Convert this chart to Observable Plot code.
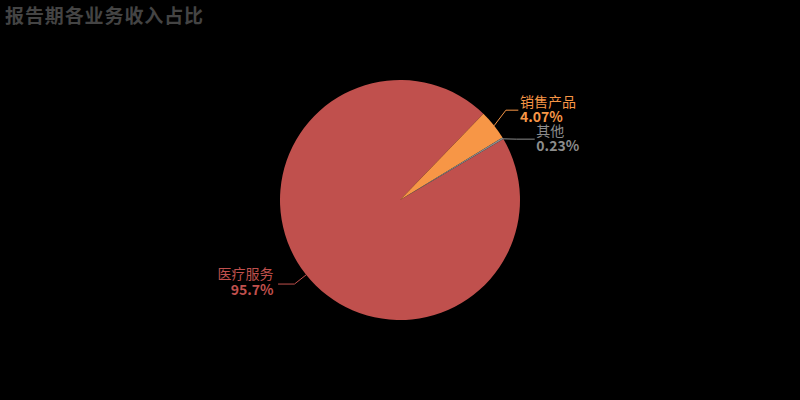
<!DOCTYPE html>
<html>
<head>
<meta charset="utf-8">
<script src="https://cdn.jsdelivr.net/npm/d3@7"></script>
<script src="https://cdn.jsdelivr.net/npm/@observablehq/plot@0.6"></script>
<style>
  html, body { margin: 0; padding: 0; background: #000; }
  #wrap { position: relative; width: 800px; height: 400px; }
  #title { position: absolute; left: 5px; top: 1px; font: bold 19px "Noto Sans CJK SC", sans-serif; color: #444; letter-spacing: 0.9px; }
</style>
</head>
<body>
<div id="wrap"><div id="title">报告期各业务收入占比</div></div>
<script>
const categories = ["医疗服务", "销售产品", "其他"];
const shares = [95.7, 4.07, 0.23];
const pctLabels = ["95.7%", "4.07%", "0.23%"];
const colors = ["#c0504d", "#f79646", "#8c8c8c"];

// label layout (leader-line tweaks to avoid overlap, like the original)
const labelShift = [0, -6, 8];
const labelLen2 = [16, 12, 18];
const labelGap = [5, 2, 2];

const R = 120, len1 = 15;
const startDeg = 59.5;
const pie = d3.pie().sort(null).value(d => d.share)
  .startAngle(startDeg * Math.PI / 180).endAngle((startDeg + 360) * Math.PI / 180);
const rows = categories.map((c, i) => ({name: c, share: shares[i], pct: pctLabels[i], color: colors[i], i}));
const arcs = pie(rows).map(a => {
  const i = a.data.i;
  const mid = (a.startAngle + a.endAngle) / 2;
  const sx = Math.sin(mid), sy = -Math.cos(mid);
  const ex = R * sx, ey = R * sy;
  const bx = (R + len1) * sx, by = (R + len1) * sy + labelShift[i];
  const side = sx >= 0 ? 1 : -1;
  const hx = bx + side * labelLen2[i];
  return {...a, ...a.data, ex, ey, bx, by, hx, tx: hx + side * labelGap[i], side};
});
const lines = arcs.flatMap(a => [
  {name: a.name, color: a.color, x: a.ex, y: a.ey},
  {name: a.name, color: a.color, x: a.bx, y: a.by},
  {name: a.name, color: a.color, x: a.hx, y: a.by}
]);

function pieMark(index, scales, values, dimensions, context) {
  const cx = scales.x(0), cy = scales.y(0), r = scales.x(R) - scales.x(0);
  const arc = d3.arc().innerRadius(0).outerRadius(r);
  const g = d3.create("svg:g").attr("transform", `translate(${cx},${cy})`);
  g.selectAll("path").data(arcs).join("path")
    .attr("d", arc).attr("fill", d => d.color);
  return g.node();
}

const font = '"Noto Sans CJK SC", sans-serif';
const right = arcs.filter(a => a.side > 0), left = arcs.filter(a => a.side < 0);
const chart = Plot.plot({
  width: 800, height: 400,
  margin: 0,
  x: {domain: [-400, 400], range: [0, 800], axis: null},
  y: {domain: [-200, 200], range: [0, 400], axis: null},
  style: {background: "transparent"},
  marks: [
    pieMark,
    Plot.line(lines, {x: "x", y: "y", z: "name", stroke: "color", strokeWidth: 1}),
    Plot.text(right, {x: "tx", y: "by", text: "name", fill: "color", textAnchor: "start", dy: -8, fontSize: 14, fontFamily: font}),
    Plot.text(right, {x: "tx", y: "by", text: "pct", fill: "color", textAnchor: "start", dy: 7, fontSize: 14, fontWeight: "bold", fontFamily: font}),
    Plot.text(left, {x: "tx", y: "by", text: "name", fill: "color", textAnchor: "end", dy: -10, fontSize: 14, fontFamily: font}),
    Plot.text(left, {x: "tx", y: "by", text: "pct", fill: "color", textAnchor: "end", dy: 6, fontSize: 14, fontWeight: "bold", fontFamily: font})
  ]
});
document.getElementById("wrap").prepend(chart);
chart.style.position = "absolute";
chart.style.left = "0";
chart.style.top = "0";
</script>
</body>
</html>
